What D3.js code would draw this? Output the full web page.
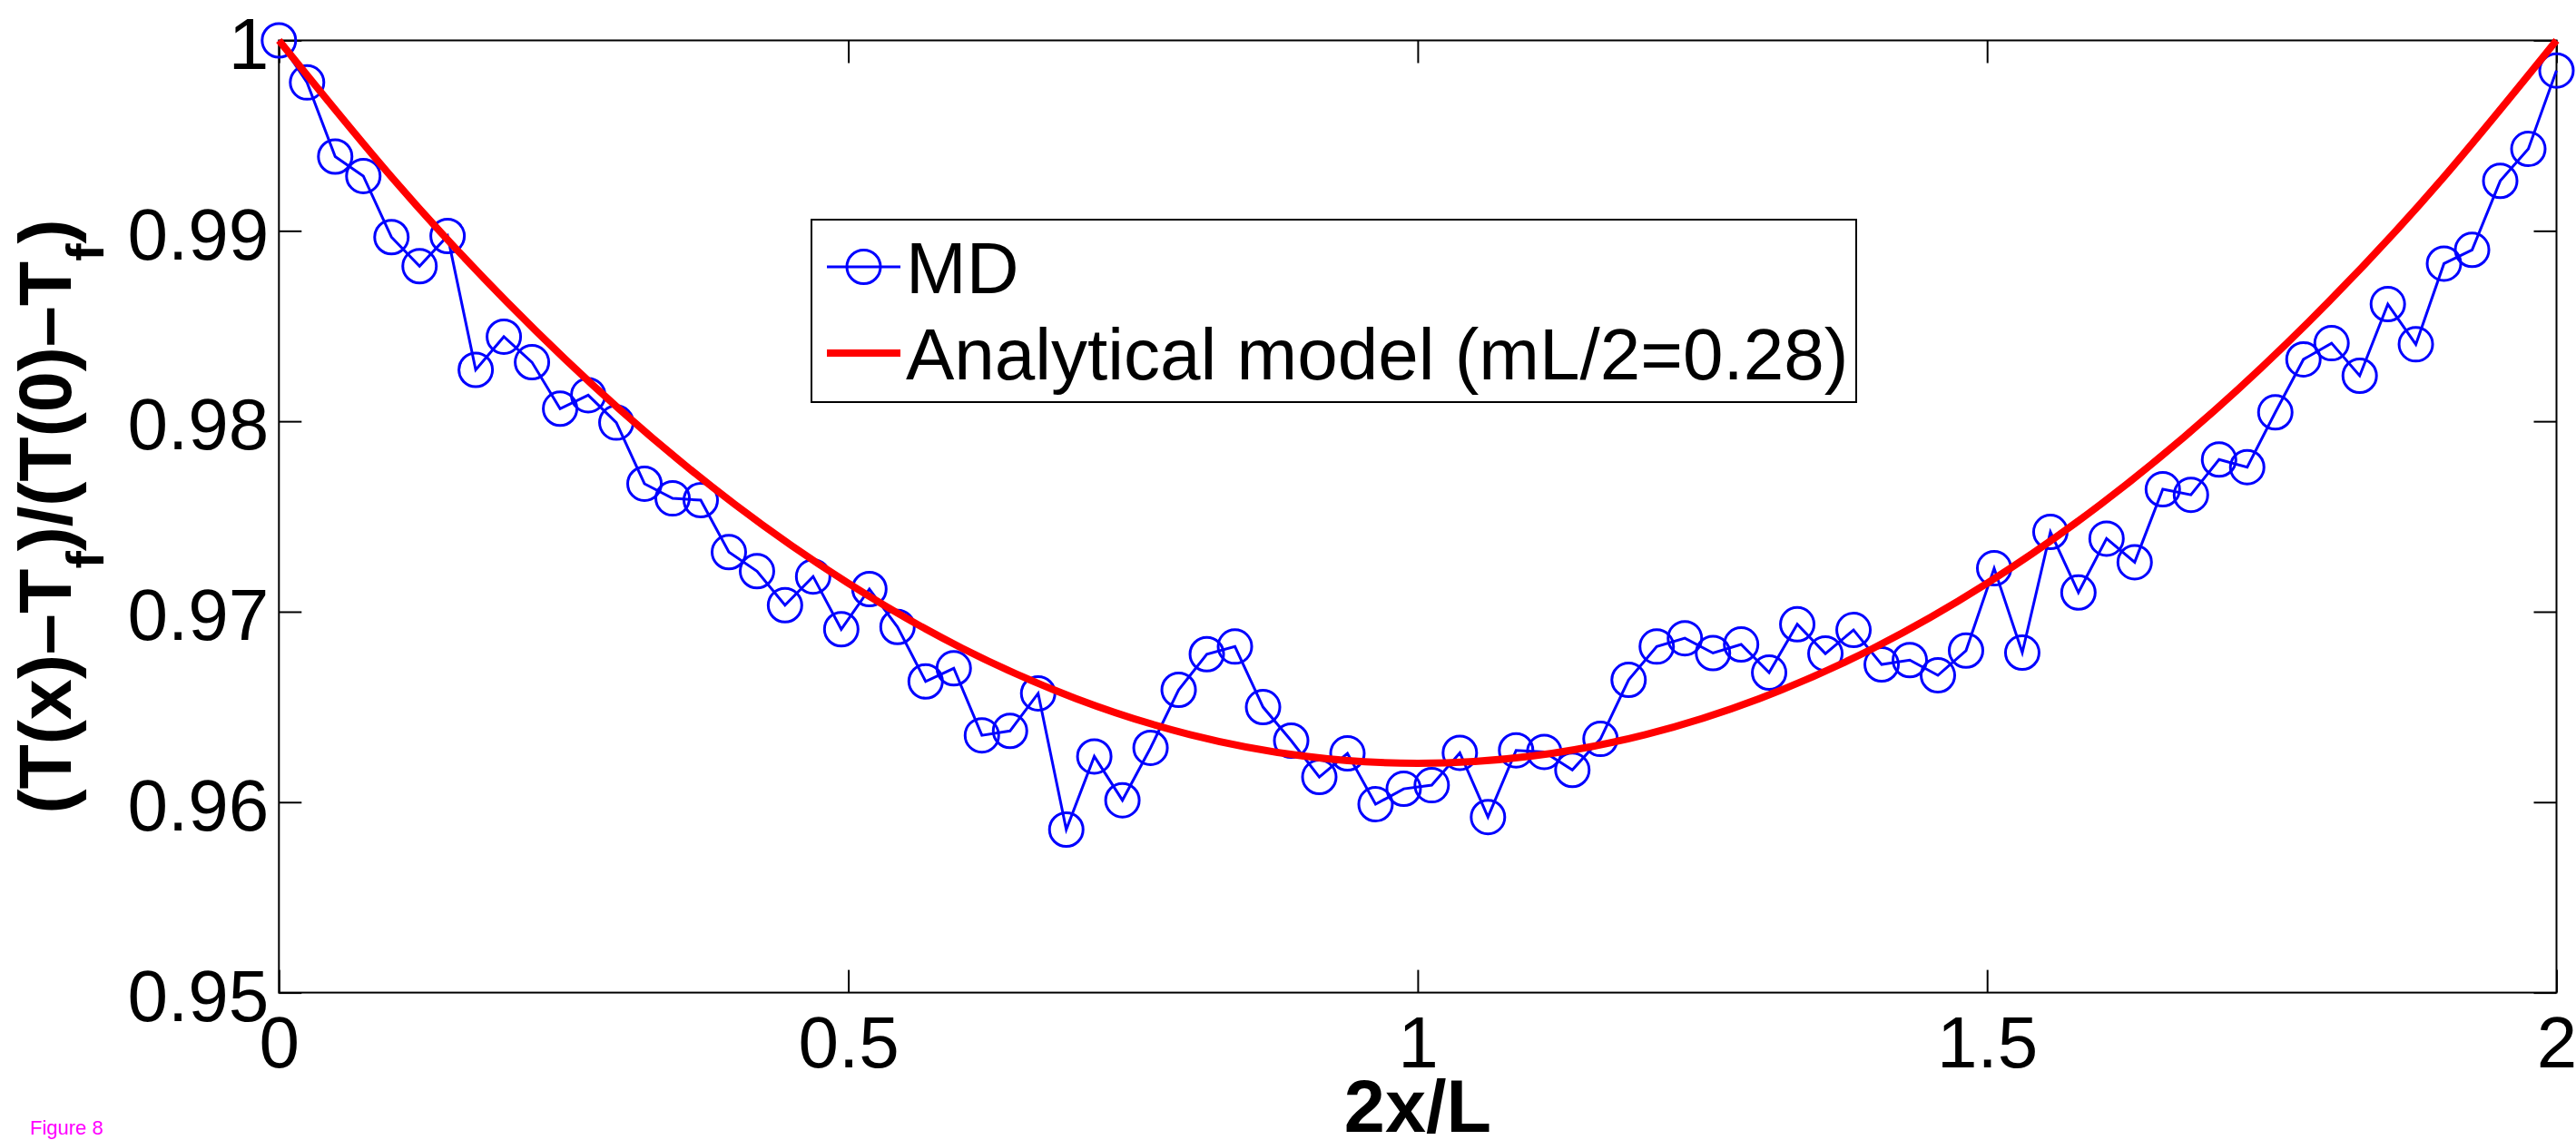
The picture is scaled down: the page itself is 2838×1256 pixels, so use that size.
<!DOCTYPE html>
<html>
<head>
<meta charset="utf-8">
<script src="https://cdn.jsdelivr.net/npm/d3@7"></script>
<style>
  html, body { margin: 0; padding: 0; background: #ffffff; }
  svg { display: block; }
  text { font-family: "Liberation Sans", Arial, Helvetica, sans-serif; }
</style>
</head>
<body>
<script>
// ---------------- data ----------------
const mdX = [
  0.0000, 0.0247, 0.0494, 0.0741, 0.0988, 0.1235, 0.1481, 0.1728, 0.1975, 0.2222,
  0.2469, 0.2716, 0.2963, 0.3210, 0.3457, 0.3704, 0.3951, 0.4198, 0.4444, 0.4691,
  0.4938, 0.5185, 0.5432, 0.5679, 0.5926, 0.6173, 0.6420, 0.6667, 0.6914, 0.7160,
  0.7407, 0.7654, 0.7901, 0.8148, 0.8395, 0.8642, 0.8889, 0.9136, 0.9383, 0.9630,
  0.9877, 1.0123, 1.0370, 1.0617, 1.0864, 1.1111, 1.1358, 1.1605, 1.1852, 1.2099,
  1.2346, 1.2593, 1.2840, 1.3086, 1.3333, 1.3580, 1.3827, 1.4074, 1.4321, 1.4568,
  1.4815, 1.5062, 1.5309, 1.5556, 1.5802, 1.6049, 1.6296, 1.6543, 1.6790, 1.7037,
  1.7284, 1.7531, 1.7778, 1.8025, 1.8272, 1.8519, 1.8765, 1.9012, 1.9259, 1.9506,
  1.9753, 2.0000
];
const mdY = [
  1.00000, 0.99779, 0.99390, 0.99288, 0.98967, 0.98814, 0.98973, 0.98270, 0.98444, 0.98310,
  0.98066, 0.98137, 0.97993, 0.97672, 0.97595, 0.97586, 0.97313, 0.97213, 0.97034, 0.97185,
  0.96908, 0.97119, 0.96920, 0.96634, 0.96703, 0.96351, 0.96374, 0.96571, 0.95856, 0.96240,
  0.96010, 0.96285, 0.96590, 0.96777, 0.96817, 0.96499, 0.96323, 0.96132, 0.96256, 0.95989,
  0.96070, 0.96089, 0.96259, 0.95922, 0.96272, 0.96264, 0.96169, 0.96332, 0.96642, 0.96817,
  0.96861, 0.96783, 0.96828, 0.96680, 0.96934, 0.96780, 0.96904, 0.96723, 0.96746, 0.96666,
  0.96796, 0.97228, 0.96785, 0.97419, 0.97101, 0.97384, 0.97260, 0.97643, 0.97614, 0.97799,
  0.97759, 0.98047, 0.98325, 0.98410, 0.98239, 0.98615, 0.98404, 0.98828, 0.98900, 0.99262,
  0.99430, 0.99842
];
const modelX = [0.0, 0.1, 0.2, 0.3, 0.4, 0.5, 0.6, 0.7, 0.8, 0.9, 1.0,
                1.1, 1.2, 1.3, 1.4, 1.5, 1.6, 1.7, 1.8, 1.9, 2.0];
const modelY = [1.00000, 0.99275, 0.98628, 0.98058, 0.97565, 0.97149, 0.96808, 0.96544, 0.96355, 0.96242, 0.96204,
                0.96242, 0.96355, 0.96544, 0.96808, 0.97149, 0.97565, 0.98058, 0.98628, 0.99275, 1.00000];
const xTicks = [0, 0.5, 1, 1.5, 2];
const xTickLabels = ["0", "0.5", "1", "1.5", "2"];
const yTicks = [0.95, 0.96, 0.97, 0.98, 0.99, 1.0];
const yTickLabels = ["0.95", "0.96", "0.97", "0.98", "0.99", "1"];
const seriesNames = ["MD", "Analytical model (mL/2=0.28)"];
const xLabel = "2x/L";
const figureNote = "Figure 8";

// ---------------- layout ----------------
const W = 2838, H = 1256;
const plot = { left: 307.3, right: 2816.5, top: 44.5, bottom: 1093.6 };

const svg = d3.select("body").append("svg")
  .attr("width", W).attr("height", H)
  .attr("viewBox", `0 0 ${W} ${H}`);
svg.append("rect").attr("width", W).attr("height", H).attr("fill", "#ffffff");

const x = d3.scaleLinear().domain([0, 2]).range([plot.left, plot.right]);
const y = d3.scaleLinear().domain([0.95, 1.0]).range([plot.bottom, plot.top]);

// ---------------- axes (MATLAB style, ticks inside, box) ----------------
const tickLen = 25;
const fmtX = (d) => xTickLabels[xTicks.indexOf(d)];
const fmtY = (d) => yTickLabels[yTicks.indexOf(d)];

const gBottom = svg.append("g").attr("transform", `translate(0,${plot.bottom})`)
  .call(d3.axisBottom(x).tickValues(xTicks).tickFormat(fmtX)
    .tickSize(-tickLen).tickSizeOuter(0).tickPadding(26));
const gTop = svg.append("g").attr("transform", `translate(0,${plot.top})`)
  .call(d3.axisTop(x).tickValues(xTicks).tickFormat("")
    .tickSize(-tickLen).tickSizeOuter(0));
const gLeft = svg.append("g").attr("transform", `translate(${plot.left},0)`)
  .call(d3.axisLeft(y).tickValues(yTicks).tickFormat(fmtY)
    .tickSize(-tickLen).tickSizeOuter(0).tickPadding(11));
const gRight = svg.append("g").attr("transform", `translate(${plot.right},0)`)
  .call(d3.axisRight(y).tickValues(yTicks).tickFormat("")
    .tickSize(-tickLen).tickSizeOuter(0));

[gBottom, gTop, gLeft, gRight].forEach(g => {
  g.select(".domain").remove();
  g.selectAll(".tick line").attr("stroke", "#000").attr("stroke-width", 2);
  g.selectAll(".tick text")
    .attr("fill", "#000")
    .style("font-family", '"Liberation Sans", Arial, Helvetica, sans-serif')
    .style("font-size", "80px");
});
gLeft.selectAll(".tick text").attr("dy", "0.385em");
gBottom.selectAll(".tick text").attr("dy", "0.71em");

// box
svg.append("rect")
  .attr("x", plot.left).attr("y", plot.top)
  .attr("width", plot.right - plot.left).attr("height", plot.bottom - plot.top)
  .attr("fill", "none").attr("stroke", "#000").attr("stroke-width", 2);

// ---------------- data marks ----------------
const mdData = mdX.map((d, i) => ({ x: d, y: mdY[i] }));
const modelData = modelX.map((d, i) => ({ x: d, y: modelY[i] }));

const lineMD = d3.line().x(d => x(d.x)).y(d => y(d.y));
svg.append("path").datum(mdData)
  .attr("d", lineMD)
  .attr("fill", "none").attr("stroke", "#0000ff").attr("stroke-width", 3)
  .attr("stroke-linejoin", "miter");

svg.append("g").selectAll("circle").data(mdData).join("circle")
  .attr("cx", d => x(d.x)).attr("cy", d => y(d.y)).attr("r", 18.5)
  .attr("fill", "none").attr("stroke", "#0000ff").attr("stroke-width", 3);

const lineModel = d3.line().x(d => x(d.x)).y(d => y(d.y)).curve(d3.curveNatural);
svg.append("path").datum(modelData)
  .attr("d", lineModel)
  .attr("fill", "none").attr("stroke", "#ff0000").attr("stroke-width", 8)
  .attr("stroke-linecap", "butt");

// ---------------- legend ----------------
const lg = { left: 894, top: 242, right: 2045, bottom: 443 };
svg.append("rect")
  .attr("x", lg.left).attr("y", lg.top)
  .attr("width", lg.right - lg.left).attr("height", lg.bottom - lg.top)
  .attr("fill", "#ffffff").attr("stroke", "#000").attr("stroke-width", 2);

const legendRows = [
  { name: seriesNames[0], color: "#0000ff", width: 3, marker: true, ly: 294, ty: 322.5 },
  { name: seriesNames[1], color: "#ff0000", width: 8, marker: false, ly: 389, ty: 418 }
];
legendRows.forEach(r => {
  svg.append("line")
    .attr("x1", 911).attr("x2", 992).attr("y1", r.ly).attr("y2", r.ly)
    .attr("stroke", r.color).attr("stroke-width", r.width);
  if (r.marker) {
    svg.append("circle").attr("cx", 951.5).attr("cy", r.ly).attr("r", 18.5)
      .attr("fill", "none").attr("stroke", r.color).attr("stroke-width", 3);
  }
  svg.append("text").attr("x", 998).attr("y", r.ty)
    .attr("fill", "#000").style("font-size", "80px").text(r.name);
});

// ---------------- axis labels ----------------
svg.append("text")
  .attr("x", (plot.left + plot.right) / 2).attr("y", 1246.5)
  .attr("text-anchor", "middle")
  .style("font-size", "81px").style("font-weight", "bold")
  .text(xLabel);

const yl = svg.append("text")
  .attr("transform", `translate(78.3,${(plot.top + plot.bottom) / 2}) rotate(-90)`)
  .attr("text-anchor", "middle")
  .style("font-size", "81px").style("font-weight", "bold");
yl.append("tspan").text("(T(x)\u2013T");
yl.append("tspan").attr("dy", 36).style("font-size", "58px").text("f");
yl.append("tspan").attr("dy", -36).text(")/(T(0)\u2013T");
yl.append("tspan").attr("dy", 36).style("font-size", "58px").text("f");
yl.append("tspan").attr("dy", -36).text(")");

// figure note
svg.append("text")
  .attr("x", 33).attr("y", 1250)
  .attr("fill", "#ff00ff").style("font-size", "22px")
  .text(figureNote);
</script>
</body>
</html>
